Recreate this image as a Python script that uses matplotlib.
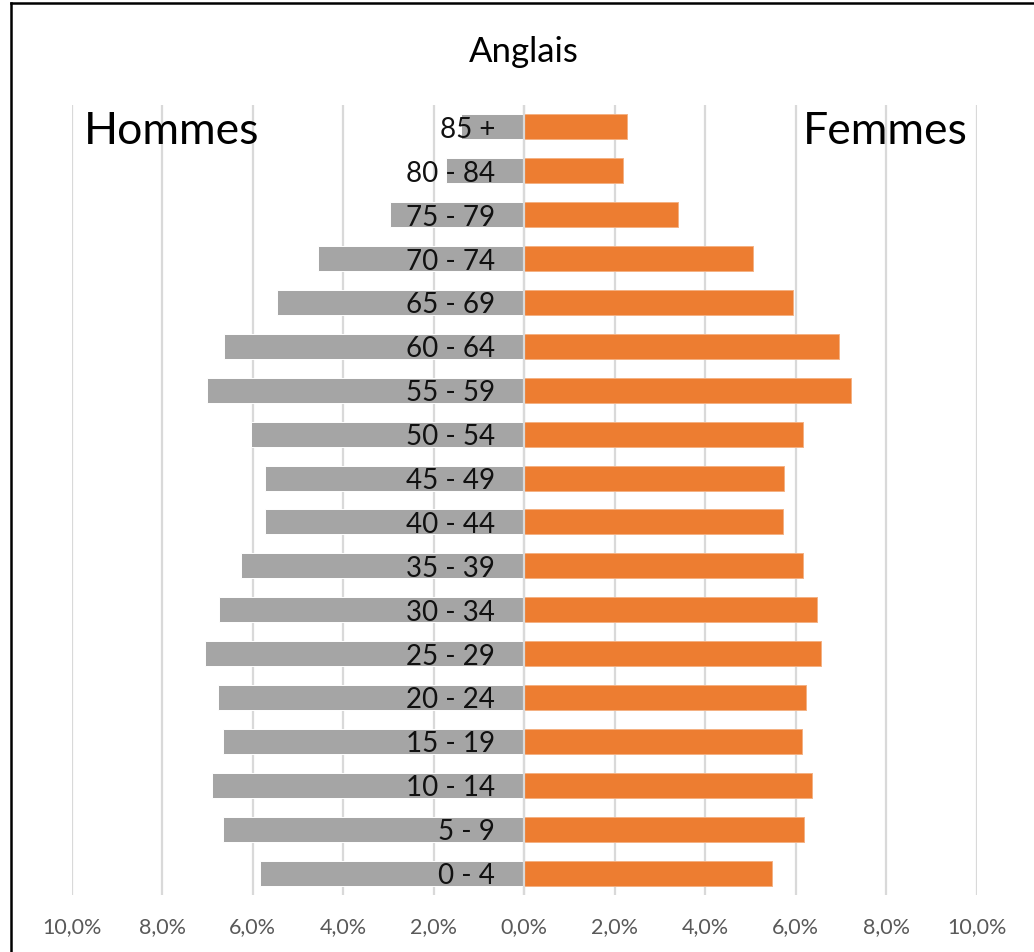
import matplotlib
matplotlib.use("Agg")
import matplotlib.pyplot as plt
from matplotlib.lines import Line2D
from matplotlib.transforms import offset_copy
import numpy as np

plt.rcParams['font.family'] = ['Lato', 'DejaVu Sans']

# ---- data ----
ages = ['0 - 4', '5 - 9', '10 - 14', '15 - 19', '20 - 24', '25 - 29', '30 - 34',
        '35 - 39', '40 - 44', '45 - 49', '50 - 54', '55 - 59', '60 - 64',
        '65 - 69', '70 - 74', '75 - 79', '80 - 84', '85 +']
hommes = [5.83, 6.66, 6.89, 6.66, 6.77, 7.05, 6.74, 6.26, 5.72, 5.72, 6.03,
          7.00, 6.63, 5.46, 4.55, 2.96, 1.74, 1.40]
femmes = [5.48, 6.19, 6.35, 6.14, 6.23, 6.56, 6.47, 6.17, 5.71, 5.74, 6.17,
          7.21, 6.95, 5.93, 5.06, 3.39, 2.18, 2.27]
tick_vals = [-10, -8, -6, -4, -2, 0, 2, 4, 6, 8, 10]
tick_labels = ['10,0%', '8,0%', '6,0%', '4,0%', '2,0%', '0,0%',
               '2,0%', '4,0%', '6,0%', '8,0%', '10,0%']
title = 'Anglais'
label_h = 'Hommes'
label_f = 'Femmes'

W, H = 1034, 953
fig = plt.figure(figsize=(W / 100, H / 100), dpi=100)
ax = fig.add_axes([71.7 / W, 1 - 896 / H, (976.8 - 71.7) / W, (896 - 106) / H])

y = np.arange(len(ages))
ax.barh(y, -np.array(hommes), height=0.57, color='#A5A5A5',
        edgecolor='white', linewidth=0.7, zorder=2)
ax.barh(y, femmes, height=0.57, color='#ED7D31',
        edgecolor='#F4B183', linewidth=0.7, zorder=2)
ax.axvline(0, color='#D9D9D9', lw=1.6, zorder=2.5)

ax.set_xlim(-10, 10)
ax.set_ylim(-0.5, len(ages) - 0.5)
ax.set_axisbelow(True)
ax.xaxis.grid(True, color='#D9D9D9', lw=1.6)
ax.set_xticks(tick_vals)
ax.set_xticklabels(tick_labels, fontsize=15.5, color='#595959')
ax.tick_params(axis='x', length=0, pad=15)
ax.set_yticks([])
for s in ax.spines.values():
    s.set_visible(False)

trans = offset_copy(ax.transData, fig=fig, x=-29, y=-10, units='dots')
for yi, lab in zip(y, ages):
    ax.text(0, yi, lab, transform=trans, ha='right', va='baseline',
            fontsize=20, color='#111111', zorder=5)

fig.text(524 / W, 1 - 62 / H, title, ha='center', va='baseline',
         fontsize=25, color='black')
fig.text(84 / W, 1 - 144 / H, label_h, ha='left', va='baseline',
         fontsize=32, color='black')
fig.text(968 / W, 1 - 144 / H, label_f, ha='right', va='baseline',
         fontsize=32, color='black')

# frame (partially cropped in reference)
fig.add_artist(Line2D([11 / W, 1.0], [1 - 4 / H, 1 - 4 / H],
                      transform=fig.transFigure, color='black', lw=1.8))
fig.add_artist(Line2D([11 / W, 11 / W], [0, 1 - 4 / H],
                      transform=fig.transFigure, color='black', lw=1.8))

fig.savefig('out.png', dpi=100, facecolor='white')
